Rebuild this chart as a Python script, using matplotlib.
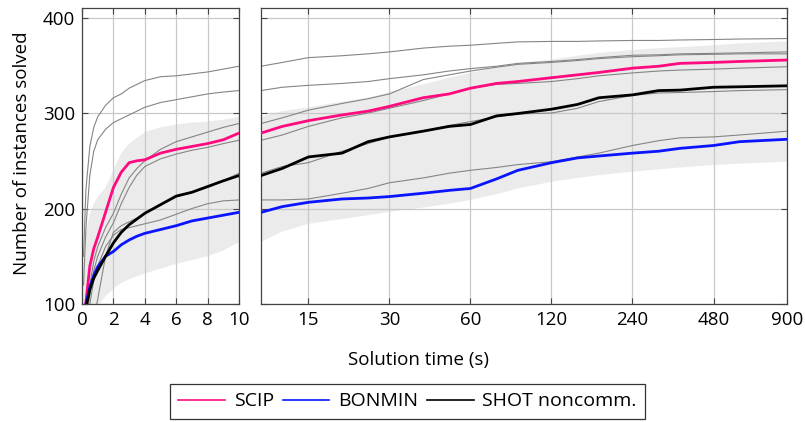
"""Solved-instance profiles: linear 0-10 s panel plus log-scaled 10-900 s panel."""

import matplotlib

matplotlib.use("Agg")

import matplotlib.pyplot as plt
from matplotlib.ticker import FixedLocator, NullLocator, FixedFormatter

plt.rcParams["font.family"] = ["Open Sans", "DejaVu Sans"]
plt.rcParams["font.size"] = 13.5

# shared time grid (s)
times = [0.1, 0.25, 0.5, 0.75, 1, 1.5, 2, 2.5, 3, 3.5, 4, 5, 6, 7, 8, 9, 10,
         12, 15, 20, 25, 30, 40, 50, 60, 75, 90, 120, 150, 180, 240, 300, 360,
         480, 600, 900]

scip = [80, 102, 140, 158, 170, 196, 222, 238, 248, 250, 251, 258, 262, 265,
        268, 272, 279, 286, 292, 298, 302, 307, 316, 320, 326, 331, 333, 337,
        340, 342.5, 347, 349, 352, 353, 354, 355.5]
bonmin = [80, 100, 118, 130, 139, 150, 155, 162, 167, 171, 174, 178, 182, 187,
          190, 193, 196, 202, 206.5, 210, 211, 212.5, 216, 219, 221, 231, 240,
          248, 253, 255, 258, 260, 263, 266, 270, 272.5]
shot = [70, 96, 115, 127, 135, 150, 164, 175, 183, 189, 195, 204, 213, 217,
        223, 229, 234.5, 242, 254, 258, 270, 275, 281, 286, 288, 297, 299.5,
        304, 309, 316, 319, 323.5, 324, 327, 327.5, 328.5]

# other solvers, drawn as thin grey lines
others = [
    [150, 220, 265, 285, 296, 308, 316, 320, 326, 330, 334, 338, 339, 341, 343,
     346, 349, 353, 358, 360, 362, 364, 368, 370, 371, 373, 374.5, 375, 375,
     375.5, 376, 376, 376.5, 377, 377.5, 378],
    [120, 180, 235, 260, 272, 283, 290, 294, 298, 302, 306, 311, 314, 317, 320,
     322, 323.5, 327, 329, 331, 333, 336, 340, 344, 346.5, 349, 352, 354, 356,
     358, 360.5, 361, 362, 362.5, 363, 364],
    [60, 85, 120, 145, 160, 180, 195, 215, 232, 242, 250, 262, 270, 275, 280,
     285, 289, 295, 303, 310, 315, 320, 335, 340, 344, 348, 351, 353, 355, 357,
     359, 360, 361, 361.5, 362, 362],
    [50, 80, 110, 135, 150, 170, 185, 205, 222, 235, 244, 252, 257, 261, 264,
     268, 271.5, 277, 286, 295, 300, 305, 313, 320, 326, 330, 331, 333, 336,
     339, 342, 344, 345, 346, 347, 348.5],
    [30, 45, 60, 85, 105, 150, 175, 182, 186, 190, 195, 204, 212, 217, 222,
     229, 237, 244, 248, 260, 268, 275, 281, 287, 291, 296, 299, 300, 305, 312,
     318.5, 321, 321.5, 322.5, 323.5, 324.5],
    [40, 70, 100, 125, 140, 160, 172, 178, 180, 182, 184, 188, 194, 200, 205,
     208, 209, 209, 210, 216, 221, 227, 232, 237, 240, 243, 246, 249, 254, 258,
     266, 271, 274, 275, 277, 281],
]

band_upper = [130, 175, 195, 205, 212, 222, 240, 258, 268, 274, 280, 285, 288,
              290, 291, 293, 296, 302, 306, 312, 316, 322, 330, 337, 342, 348,
              352, 356, 360, 363, 366, 368, 369, 371, 373, 375]
band_lower = [40, 55, 70, 85, 98, 108, 116, 122, 126, 129, 132, 137, 142, 146,
              150, 156, 165, 176, 184, 189, 193, 196.5, 201, 205, 209, 215, 221,
              228, 232, 235, 238.5, 241, 243, 245.5, 247, 249]

solvers = ["SCIP", "BONMIN", "SHOT noncomm."]
colors = ["#ff0a7f", "#0a14ff", "black"]
left_ticks = [0, 2, 4, 6, 8, 10]
right_ticks = [15, 30, 60, 120, 240, 480, 900]
y_ticks = [100, 200, 300, 400]

fig = plt.figure(figsize=(8.05, 4.22), dpi=100)
ax1 = fig.add_axes([82 / 805, 118 / 422, 157 / 805, 296 / 422])
ax2 = fig.add_axes([261 / 805, 118 / 422, 526 / 805, 296 / 422])

handles = []
for ax in (ax1, ax2):
    ax.fill_between(times, band_lower, band_upper, color="#ebebeb", lw=0, zorder=0.2)
    for vals in others:
        ax.plot(times, vals, color="#858585", lw=0.8, zorder=2)
    lines = []
    for vals, col, name in zip([scip, bonmin, shot], colors, solvers):
        (ln,) = ax.plot(times, vals, color=col, lw=2.0, label=name, zorder=3)
        lines.append(ln)
    handles = lines
    ax.set_ylim(100, 410)
    ax.yaxis.set_major_locator(FixedLocator(y_ticks))
    ax.grid(True, color="#c8c8c8", lw=0.9)
    ax.set_axisbelow(True)
    ax.tick_params(direction="in", length=4, color="#444444", top=True, right=True,
                   pad=5, labelsize=13.5)
    for sp in ax.spines.values():
        sp.set_color("#444444")
        sp.set_linewidth(0.9)

ax1.set_xlim(0, 10)
ax1.xaxis.set_major_locator(FixedLocator(left_ticks))

ax2.set_xscale("log")
ax2.set_xlim(10, 900)
ax2.xaxis.set_major_locator(FixedLocator(right_ticks))
ax2.xaxis.set_major_formatter(FixedFormatter([str(t) for t in right_ticks]))
ax2.xaxis.set_minor_locator(NullLocator())
ax2.tick_params(labelleft=False)

fig.text(418 / 805, 1 - 360 / 422, "Solution time (s)", ha="center", va="center")
fig.text(22 / 805, 1 - 153 / 422, "Number of instances solved", ha="center", va="center",
         rotation=90)

leg = fig.legend(handles, solvers, loc="center", bbox_to_anchor=(407.5 / 805, 1 - 401.5 / 422),
                 ncol=3, frameon=True, fancybox=False, edgecolor="black", fontsize=14,
                 handlelength=2.4, handletextpad=0.45, columnspacing=0.45,
                 borderpad=0.45, borderaxespad=0)
leg.get_frame().set_linewidth(0.9)
for ln in leg.get_lines():
    ln.set_linewidth(1.2)

fig.savefig("out.png", dpi=100)
plt.close(fig)
